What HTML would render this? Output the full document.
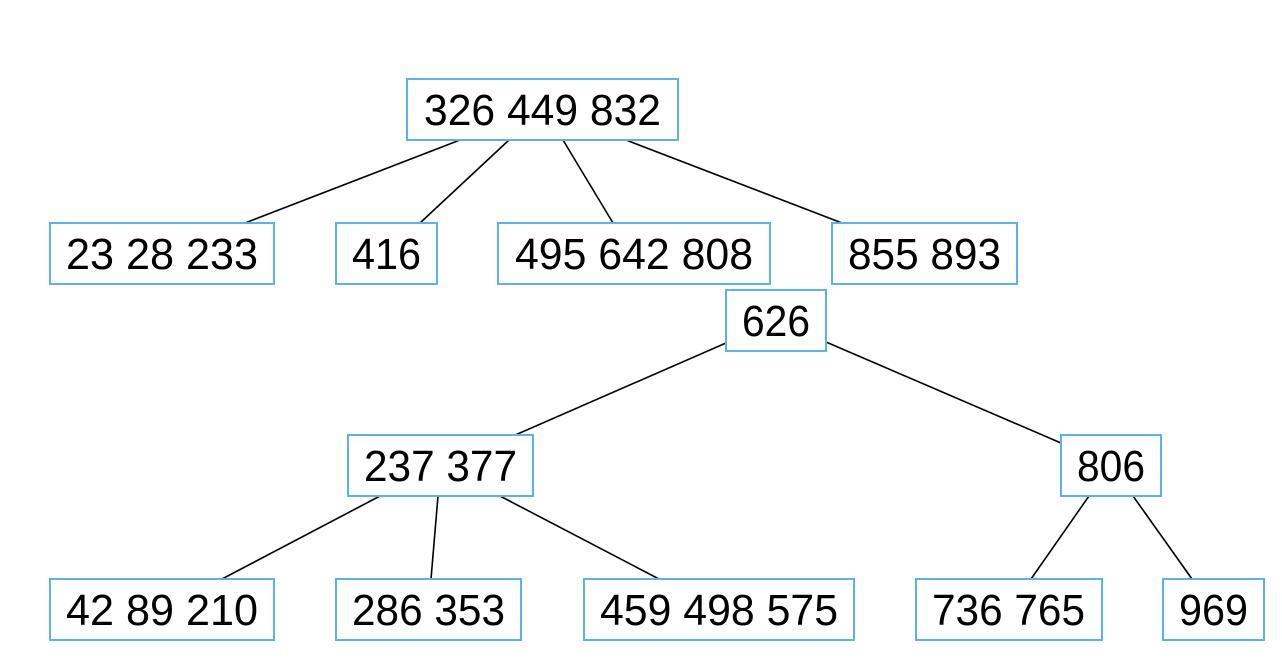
<!DOCTYPE html>
<html><head><meta charset="utf-8"><style>
html,body{margin:0;padding:0;background:#fff;}
svg{display:block}
text{font-family:"Liberation Sans","DejaVu Sans",sans-serif;font-size:44px;fill:#000}
rect{fill:#fff;stroke:#5ab4e5;stroke-width:2}
line{stroke:#000;stroke-width:1.6}
</style></head><body>
<svg width="1282" height="660" viewBox="0 0 1282 660" xmlns="http://www.w3.org/2000/svg">
<line x1="460" y1="140" x2="245" y2="223"/>
<line x1="509" y1="140" x2="420" y2="223"/>
<line x1="563" y1="140" x2="613" y2="223"/>
<line x1="626" y1="140" x2="842" y2="223"/>
<line x1="726" y1="343" x2="513" y2="436"/>
<line x1="826" y1="342" x2="1061" y2="443"/>
<line x1="380" y1="496" x2="222" y2="579"/>
<line x1="438" y1="496" x2="431" y2="579"/>
<line x1="500" y1="496" x2="659" y2="579"/>
<line x1="1089" y1="496" x2="1031" y2="579"/>
<line x1="1133" y1="496" x2="1192" y2="579"/>

<rect x="407" y="79" width="271" height="61"/>
<text x="424" y="125" textLength="237" lengthAdjust="spacingAndGlyphs">326 449 832</text>

<rect x="50" y="223" width="224" height="61"/>
<text x="66" y="269" textLength="192" lengthAdjust="spacingAndGlyphs">23 28 233</text>
<rect x="336" y="223" width="101" height="61"/>
<text x="352" y="269" textLength="69" lengthAdjust="spacingAndGlyphs">416</text>
<rect x="498" y="223" width="272" height="61"/>
<text x="515" y="269" textLength="238" lengthAdjust="spacingAndGlyphs">495 642 808</text>
<rect x="832" y="223" width="185" height="61"/>
<text x="848" y="269" textLength="153" lengthAdjust="spacingAndGlyphs">855 893</text>

<rect x="726" y="290" width="100" height="61"/>
<text x="742" y="336" textLength="68" lengthAdjust="spacingAndGlyphs">626</text>

<rect x="348" y="435" width="185" height="61"/>
<text x="364" y="481" textLength="153" lengthAdjust="spacingAndGlyphs">237 377</text>
<rect x="1061" y="435" width="100" height="61"/>
<text x="1077" y="481" textLength="68" lengthAdjust="spacingAndGlyphs">806</text>

<rect x="50" y="579" width="224" height="61"/>
<text x="66" y="625" textLength="192" lengthAdjust="spacingAndGlyphs">42 89 210</text>
<rect x="336" y="579" width="185" height="61"/>
<text x="352" y="625" textLength="153" lengthAdjust="spacingAndGlyphs">286 353</text>
<rect x="584" y="579" width="270" height="61"/>
<text x="600" y="625" textLength="238" lengthAdjust="spacingAndGlyphs">459 498 575</text>
<rect x="916" y="579" width="186" height="61"/>
<text x="932" y="625" textLength="153" lengthAdjust="spacingAndGlyphs">736 765</text>
<rect x="1163" y="579" width="101" height="61"/>
<text x="1179" y="625" textLength="69" lengthAdjust="spacingAndGlyphs">969</text>
</svg>
</body></html>
